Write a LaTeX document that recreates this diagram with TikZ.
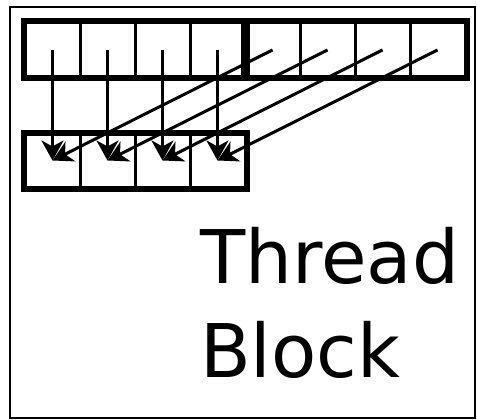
\documentclass[tikz,border=0pt]{standalone}
\usepackage{fontspec}
\newfontfamily\blockfont{DejaVu Sans}
\usetikzlibrary{positioning,arrows.meta}

\begin{document}
\begin{tikzpicture}[
  x=1pt, y=-1pt,
  cell/.style={draw, line width=3pt, minimum width=55pt, minimum height=54pt, inner sep=0pt},
  group/.style={draw, line width=6pt},
  arr/.style={-{Stealth[length=20pt,width=22pt,inset=6pt]}, line width=3pt},
  lab/.style={font=\blockfont\fontsize{74}{88}\selectfont, inner sep=0pt, anchor=base west}
]
  \useasboundingbox (0,0) rectangle (477,420);
  \draw[line width=1.8pt] (10,7) rectangle (475,418);

  % global memory row
  \foreach \i in {1,...,8}
    \node[cell] (t\i) at (52.5+55*\i-55, 50) {};
  % shared memory row
  \foreach \i in {1,...,4}
    \node[cell, minimum height=53pt] (b\i) at (52.5+55*\i-55, 160.5) {};

  \draw[group] (t1.north west) rectangle (t4.south east);
  \draw[group] (t5.north west) rectangle (t8.south east);
  \draw[group] (b1.north west) rectangle (b4.south east);

  % loads
  \foreach \i in {1,...,4}
    \draw[arr] (t\i.center) -- (b\i.center);
  \foreach \i [evaluate=\i as \j using int(\i+4)] in {1,...,4}
    \draw[arr] (t\j.center) -- (b\i.center);

  \node[lab] (thread) at (200,283) {Thread};
  \node[lab] (block) at (200,377) {Block};
\end{tikzpicture}
\end{document}
